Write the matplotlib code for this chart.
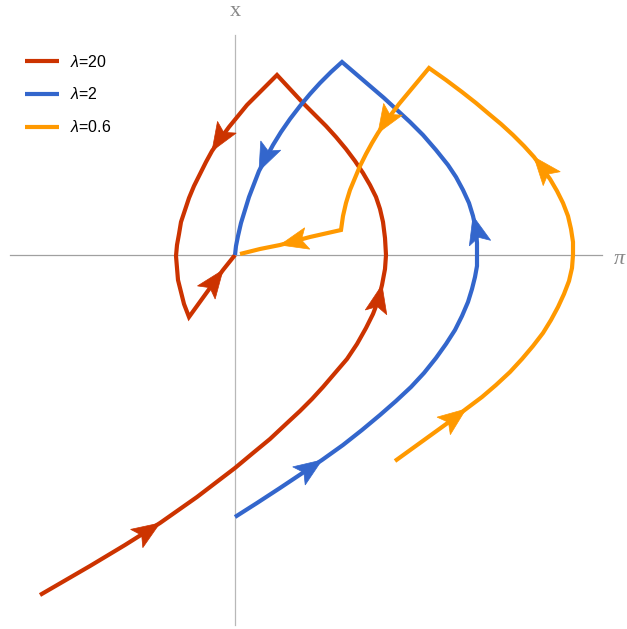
'''
    Phase portrait trajectories for different lambda values
'''

# - Imports

import matplotlib
matplotlib.use("Agg")
import matplotlib.pyplot as plt
import numpy as np

# - Data

# lambda = 20
red_pi = [-1.95, -1.45, -1.10, -0.75, -0.38, 0.00, 0.18, 0.35, 0.51, 0.65, 0.77, 0.88, 1.00, 1.12, 1.22,
          1.31, 1.38, 1.43, 1.47, 1.50, 1.51,
          1.50, 1.48, 1.45, 1.41, 1.35, 1.28, 1.20, 1.11, 1.01, 0.91, 0.79, 0.68, 0.55, 0.42,
          0.32, 0.22, 0.12, 0.03, -0.06, -0.14, -0.23, -0.29, -0.35, -0.41, -0.46, -0.50, -0.54,
          -0.56, -0.58, -0.59, -0.58, -0.57, -0.54, -0.51, -0.46,
          -0.12, 0.00]
red_x = [-3.40, -3.11, -2.90, -2.68, -2.42, -2.13, -1.98, -1.84, -1.69, -1.56, -1.44, -1.32, -1.18, -1.04, -0.89,
         -0.73, -0.59, -0.46, -0.30, -0.14, 0.00,
         0.17, 0.33, 0.46, 0.58, 0.70, 0.82, 0.94, 1.06, 1.18, 1.29, 1.41, 1.52, 1.66, 1.80,
         1.70, 1.60, 1.50, 1.39, 1.28, 1.17, 1.04, 0.93, 0.81, 0.69, 0.57, 0.45, 0.33,
         0.21, 0.10, -0.01, -0.13, -0.25, -0.37, -0.49, -0.62,
         -0.15, 0.00]
red_arrows = [3, 18, 41, 56]

# lambda = 2
blue_pi = [0.00, 0.22, 0.45, 0.66, 0.87, 1.08, 1.27, 1.45, 1.61, 1.76,
           1.89, 2.01, 2.11, 2.20, 2.27, 2.33, 2.37, 2.40, 2.42, 2.42,
           2.42, 2.41, 2.38, 2.34, 2.28, 2.21, 2.13, 2.01, 1.88, 1.75,
           1.62, 1.49, 1.35, 1.21, 1.07,
           0.96, 0.85, 0.75, 0.65, 0.55, 0.46, 0.38, 0.31, 0.24, 0.19,
           0.14, 0.10, 0.06, 0.03, 0.01, 0.00]
blue_x = [-2.62, -2.48, -2.33, -2.19, -2.05, -1.90, -1.75, -1.60, -1.46, -1.32,
          -1.18, -1.03, -0.89, -0.75, -0.61, -0.47, -0.34, -0.22, -0.11, 0.00,
          0.12, 0.25, 0.39, 0.52, 0.65, 0.78, 0.90, 1.05, 1.20, 1.33,
          1.45, 1.57, 1.69, 1.81, 1.93,
          1.83, 1.72, 1.61, 1.49, 1.36, 1.23, 1.10, 0.97, 0.84, 0.71,
          0.58, 0.45, 0.32, 0.19, 0.09, 0.00]
blue_arrows = [4, 22, 43]

# lambda = 0.6
orange_pi = [1.60, 1.78, 1.96, 2.14, 2.31, 2.47, 2.61, 2.75, 2.87, 2.98,
             3.08, 3.16, 3.23, 3.29, 3.34, 3.37, 3.38,
             3.38, 3.36, 3.33, 3.28, 3.22, 3.15, 3.07, 2.99, 2.89, 2.78,
             2.66, 2.54, 2.41, 2.27, 2.11, 1.94,
             1.84, 1.74, 1.64, 1.55, 1.49, 1.43, 1.37, 1.31, 1.25, 1.20,
             1.15, 1.11, 1.08, 1.06,
             0.75, 0.45, 0.25, 0.05]
orange_x = [-2.06, -1.93, -1.80, -1.67, -1.54, -1.42, -1.30, -1.17, -1.04, -0.91,
            -0.78, -0.65, -0.52, -0.39, -0.26, -0.13, 0.00,
            0.13, 0.26, 0.39, 0.52, 0.64, 0.76, 0.87, 0.98, 1.09, 1.20,
            1.31, 1.41, 1.52, 1.63, 1.75, 1.87,
            1.75, 1.63, 1.51, 1.39, 1.31, 1.22, 1.12, 1.01, 0.89, 0.77,
            0.65, 0.52, 0.39, 0.25,
            0.18, 0.10, 0.06, 0.01]
orange_arrows = [4, 24, 38, 48]

labels = [r"$\lambda$=20", r"$\lambda$=2", r"$\lambda$=0.6"]
colors = ["#cc3300", "#3366cc", "#ff9900"]

# - Functions

def arrowhead(axes, xs, ys, i, color):
    '''Draws a notched arrowhead with its tip at point i'''

    tip = np.array([xs[i], ys[i]])
    # Direction from neighbouring points
    d = np.array([xs[i + 1] - xs[i - 1], ys[i + 1] - ys[i - 1]])
    d = d / np.hypot(*d)
    perp = np.array([-d[1], d[0]])

    length, half_width, notch = 0.28, 0.11, 0.06
    pts = [tip,
           tip - length * d + half_width * perp,
           tip - (length - notch) * d,
           tip - length * d - half_width * perp]
    axes.add_patch(plt.Polygon(pts, closed=True, facecolor=color,
                               edgecolor=color, lw=0.5, zorder=4))

def main():
    '''Main'''

    plt.rcParams["mathtext.fontset"] = "custom"
    plt.rcParams["mathtext.it"] = "Liberation Sans:italic"
    plt.rcParams["mathtext.rm"] = "Liberation Sans"

    fig = plt.figure(figsize=(6.27, 6.29), dpi=100)
    axes = fig.add_axes([0, 0, 1, 1])
    axes.set_xlim(-2.35, 3.92)
    axes.set_ylim(-3.74, 2.55)
    axes.axis("off")

    # Axis lines
    axes.plot([-2.25, 3.67], [0, 0], color="#a0a0a0", lw=0.9, zorder=1)
    axes.plot([0, 0], [-3.70, 2.20], color="#b8b8b8", lw=0.9, zorder=1)
    axes.text(3.79, -0.05, "π", color="#888888", fontsize=16, style="italic",
              family="Liberation Serif", ha="left", va="center")
    axes.text(0.0, 2.44, "x", color="#888888", fontsize=16,
              family="Liberation Serif", ha="center", va="center")

    curves = [(red_pi, red_x, red_arrows),
              (blue_pi, blue_x, blue_arrows),
              (orange_pi, orange_x, orange_arrows)]

    for (xs, ys, arrows), color, label in zip(curves, colors, labels):
        axes.plot(xs, ys, color=color, lw=3.0, solid_joinstyle="miter",
                  solid_capstyle="butt", label=label, zorder=3)
        for i in arrows:
            arrowhead(axes, xs, ys, i, color)

    axes.legend(loc="upper left", bbox_to_anchor=(0.03, 0.925), frameon=False,
                prop={"family": "Liberation Sans", "size": 11.5},
                handlelength=2.1, handletextpad=0.7, labelspacing=1.05,
                borderaxespad=0)

    fig.savefig("out.png", dpi=100)

# - Main

if __name__ == "__main__":
    main()
